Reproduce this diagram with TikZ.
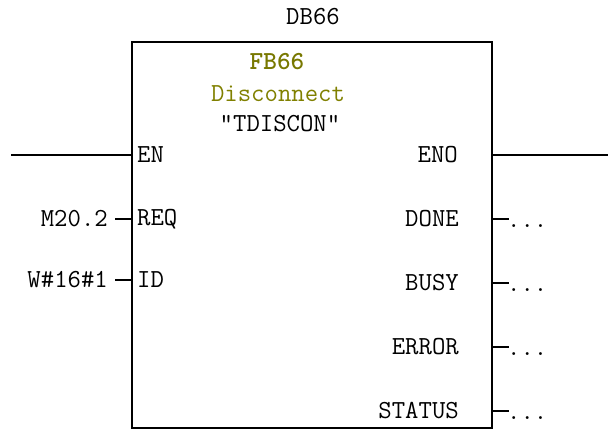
\documentclass[tikz,border=0pt]{standalone}
\usepackage{fontspec}
\definecolor{fbolive}{RGB}{120,120,0}
\definecolor{txtolive}{RGB}{128,128,0}
\begin{document}
\begin{tikzpicture}[x=1pt,y=-1pt,
        lbl/.style={font=\ttfamily\fontsize{26}{26}\selectfont, inner sep=0pt},
        wire/.style={line width=1.6pt}]
        \useasboundingbox (0,0) rectangle (608,431);
        % block
        \draw[wire] (132,42) rectangle (492,428);
        \node[lbl] (db) at (313,17) {DB66};
        \node[lbl,text=fbolive,font=\ttfamily\bfseries\fontsize{26}{26}\selectfont] (fb) at (277,62) {FB66};
        \node[lbl,text=txtolive] (name) at (278,94) {Disconnect};
        \node[lbl] (sym) at (280,124) {\char"201C TDISCON\char"201D};
        % pins on the box
        \coordinate (en) at (132,155);
        \coordinate (req) at (132,219);
        \coordinate (id) at (132,280);
        \coordinate (eno) at (492,155);
        \coordinate (done) at (492,219);
        \coordinate (busy) at (492,283);
        \coordinate (error) at (492,347);
        \coordinate (status) at (492,411);
        \coordinate (enL) at (11,155);
        \coordinate (enoR) at (608,155);
        % pin labels
        \node[lbl,anchor=west] at ([xshift=5pt]en) {EN};
        \node[lbl,anchor=west] at ([xshift=5pt]req) {REQ};
        \node[lbl,anchor=west] at ([xshift=5pt]id) {ID};
        \node[lbl,anchor=east] at ([xshift=-34pt]eno) {ENO};
        \node[lbl,anchor=east] at ([xshift=-33pt]done) {DONE};
        \node[lbl,anchor=east] at ([xshift=-33pt]busy) {BUSY};
        \node[lbl,anchor=east] at ([xshift=-33pt]error) {ERROR};
        \node[lbl,anchor=east] at ([xshift=-33pt]status) {STATUS};
        % wires
        \draw[wire] (enL) -- (en);
        \draw[wire] (eno) -- (enoR);
        \node[lbl,anchor=east] (m202) at ([xshift=-24pt]req) {M20.2};
        \node[lbl,anchor=east] (w161) at ([xshift=-24pt]id) {W\#16\#1};
        \draw[wire] ([xshift=7pt]m202.east) -- (req);
        \draw[wire] ([xshift=7pt]w161.east) -- (id);
        \foreach \p/\yb in {done/227,busy/291,error/355,status/419} {
            \draw[wire] (\p) -- ++(17,0);
            \node[lbl,anchor=base west] at (507,\yb) {...};
        }
    \end{tikzpicture}
\end{document}
